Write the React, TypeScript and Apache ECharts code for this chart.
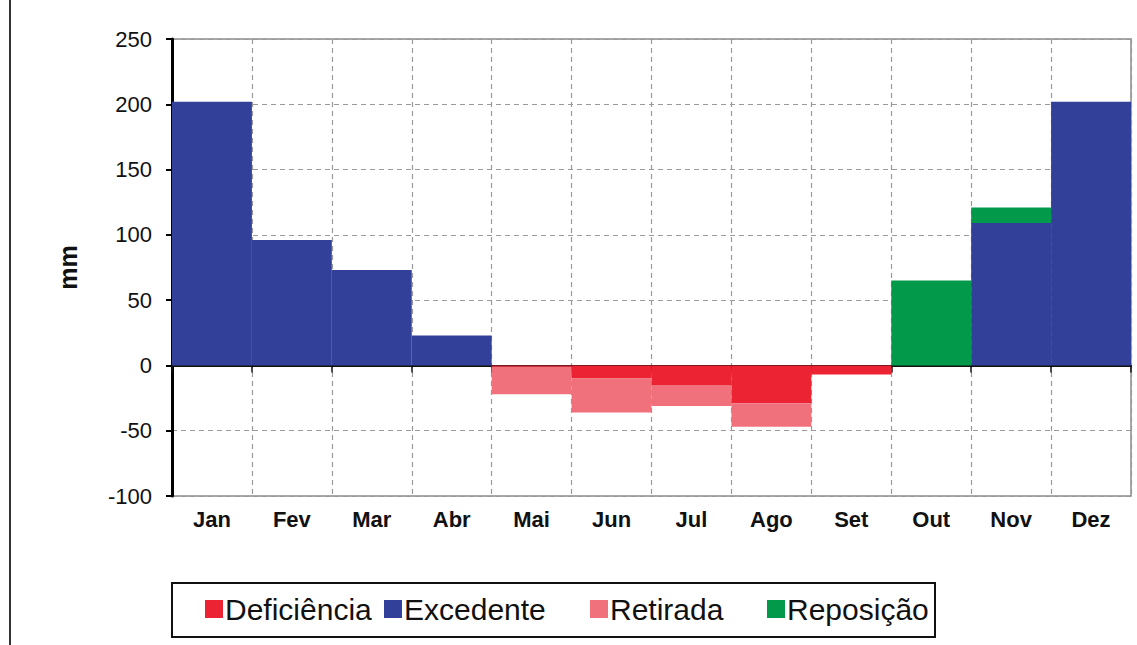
import React, { useEffect, useRef } from "react";
import * as echarts from "echarts";

const months = ["Jan", "Fev", "Mar", "Abr", "Mai", "Jun", "Jul", "Ago", "Set", "Out", "Nov", "Dez"];
const deficiencia = [0, 0, 0, 0, -1, -10, -15, -29, -7, 0, 0, 0];
const excedente = [202, 96, 73, 23, 0, 0, 0, 0, 0, 0, 109, 202];
const retirada = [0, 0, 0, 0, -21, -26, -16, -18, 0, 0, 0, 0];
const reposicao = [0, 0, 0, 0, 0, 0, 0, 0, 0, 65, 12, 0];

const seriesNames = ["Deficiência", "Excedente", "Retirada", "Reposição"];
const seriesColors = ["#EB2332", "#33409A", "#F0717B", "#03994A"];

const FONT = "'Liberation Sans', Arial, sans-serif";

export default function App() {
  const ref = useRef<HTMLDivElement>(null);
  useEffect(() => {
    if (!ref.current) return;
    const chart = echarts.init(ref.current, undefined, { renderer: "svg" });
    const dataSets = [deficiencia, excedente, retirada, reposicao];
    const legendLefts = [205, 384, 590, 767];
    chart.setOption({
      animation: false,
      backgroundColor: "#ffffff",
      textStyle: { fontFamily: FONT },
      grid: {
        left: 172,
        right: 6,
        top: 39,
        bottom: 149,
        show: true,
        borderColor: "#8a8a8a",
        borderWidth: 1.5,
        backgroundColor: "transparent",
      },
      legend: seriesNames.map((name, i) => ({
        left: legendLefts[i],
        top: 594,
        padding: 0,
        itemWidth: 18,
        itemHeight: 18,
        icon: "rect",
        selectedMode: false,
        textStyle: { fontSize: 30, color: "#111", fontFamily: FONT, padding: [0, 0, 0, -3] },
        data: [name],
      })),
      xAxis: [
        {
          type: "category",
          data: months,
          position: "bottom",
          boundaryGap: true,
          axisLine: { onZero: false, show: false },
          axisTick: { show: false },
          axisLabel: {
            show: true,
            interval: 0,
            margin: 12,
            fontSize: 22,
            fontWeight: "bold",
            color: "#111",
            fontFamily: FONT,
          },
          splitLine: {
            show: true,
            interval: 0,
            lineStyle: { color: "#9a9a9a", type: [5, 4], width: 1.2 },
          },
        },
        {
          type: "category",
          data: months,
          position: "bottom",
          boundaryGap: true,
          axisLine: { show: true, onZero: true, lineStyle: { color: "#111", width: 2 } },
          axisTick: { show: true, interval: 0, inside: false, length: 7, lineStyle: { color: "#111", width: 1.5 } },
          axisLabel: { show: false },
          splitLine: { show: false },
        },
      ],
      yAxis: {
        type: "value",
        min: -100,
        max: 250,
        interval: 50,
        name: "mm",
        nameLocation: "middle",
        nameRotate: 90,
        nameGap: 92,
        nameTextStyle: { fontSize: 25, fontWeight: "bold", color: "#111", fontFamily: FONT },
        axisLine: { show: true, lineStyle: { color: "#000", width: 3 } },
        axisTick: { show: true, length: 6, lineStyle: { color: "#000", width: 2 } },
        axisLabel: { fontSize: 22, color: "#111", margin: 20, fontFamily: FONT },
        splitLine: { show: true, lineStyle: { color: "#9a9a9a", type: [5, 4], width: 1.2 } },
      },
      series: seriesNames.map((name, i) => ({
        name,
        type: "bar",
        stack: "balanco",
        xAxisIndex: 0,
        barCategoryGap: "0%",
        barGap: "0%",
        itemStyle: { color: seriesColors[i] },
        data: dataSets[i],
        z: 1,
      })),
      graphic: [
        {
          type: "line",
          shape: { x1: 10, y1: 0, x2: 10, y2: 645 },
          style: { stroke: "#333", lineWidth: 2 },
        },
        {
          type: "rect",
          shape: { x: 172, y: 583, width: 763, height: 54 },
          style: { fill: "none", stroke: "#111", lineWidth: 2 },
          z: -1,
        },
      ],
    });
    return () => chart.dispose();
  }, []);
  return <div ref={ref} style={{ width: 1137, height: 645, position: "absolute", left: 0, top: 0 }} />;
}
